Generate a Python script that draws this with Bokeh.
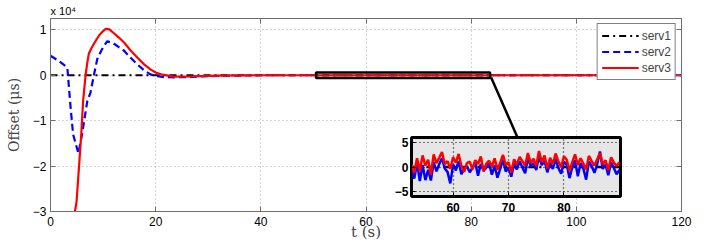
from bokeh.plotting import figure
from bokeh.models import Range1d, LinearAxis, Legend, LegendItem
from bokeh.embed import file_html
from bokeh.resources import INLINE

# ---------------- data (offsets in microseconds) ----------------
t_serv1 = [0, 120]
serv1 = [0, 0]

t_serv2 = [0, 1.5, 3.2, 3.8, 4.3, 5.3, 6.0, 7.0, 7.6, 8.25, 8.9, 9.6, 10.2, 10.8, 12.0, 13.0,
           14.0, 15.2, 16.5, 17.8, 19.0, 20.3, 21.6, 24.0, 27.0, 30.0, 35.0, 40.0, 120.0]
serv2 = [4300, 3200, 1700, -6800, -13000, -17200, -13000, -5700, -3800, 0, 3600, 5300, 6500, 7500,
         7000, 6200, 5400, 3900, 2400, 1100, 200, -200, -400, -450, -350, -200, -80, 0, 0]

t_serv3 = [4.5, 4.95, 5.4, 5.85, 6.2, 6.67, 7.0, 7.3, 7.8, 8.6, 9.2, 9.8, 10.5, 11.2, 12.0, 13.0,
           14.0, 15.2, 16.5, 17.8, 19.0, 20.0, 21.0, 23.5, 27.0, 32.0, 40.0, 120.0]
serv3 = [-31000, -27900, -20500, -13000, -5700, 0, 2800, 4800, 6000, 7600, 8700, 9500, 10200,
         10100, 9300, 8300, 7200, 5500, 3900, 2400, 1300, 600, 200, -300, -250, -100, 0, 0]

# zoomed window (52.5 s .. 90 s, every 0.5 s)
inset_t0 = 52.5
inset_dt = 0.5
inset_serv2 = [-0.5, -2.4, 0.8, -2.9, 0.4, -2.7, -0.6, -2.8, 1.0, -0.9,
               0.6, 1.8, -0.3, -1.0, -3.4, 0.5, -0.7, 1.2, -1.5, -0.4,
               0.2, -1.1, -0.2, 0.9, -1.8, 0.6, -0.8, -0.1, 0.8, -1.6,
               0.3, -2.2, -0.4, 1.5, -0.9, -0.2, -2.0, 0.7, -0.5, 1.2,
               -0.1, -1.3, 1.9, 0.2, 0.8, -0.6, 2.2, 0.4, 1.3, -1.1,
               0.9, -0.4, 1.7, -0.2, -1.4, 1.1, 0.5, -2.3, -0.1, 1.4,
               -1.9, 0.8, -0.3, -2.6, 1.1, 0.2, -1.2, 0.6, 3.2, -0.4,
               0.5, -1.7, 0.9, -0.2, -1.5, -0.6]
inset_serv3 = [0.5, -1.2, 1.8, -0.8, 2.4, 0.3, 1.5, -1.6, 2.6, 0.8,
               1.9, 3.1, 0.6, 1.2, -0.4, 2.0, 0.9, 2.7, 0.2, -1.0,
               0.8, 1.1, -0.5, 1.4, 0.6, 2.2, -0.9, 0.7, 1.3, 0.1,
               1.8, -0.6, 0.9, 2.5, 0.4, 1.0, -1.2, 1.6, 0.5, 2.1,
               1.2, 0.3, 2.9, 0.8, 1.7, 0.2, 3.3, 1.0, 2.4, -0.3,
               1.9, 0.6, 2.8, 1.1, 0.0, 2.2, 1.5, -0.8, 1.0, 2.6,
               0.4, 1.8, 0.7, -0.5, 2.3, 1.2, 0.3, 1.6, 2.9, 0.5,
               1.4, -0.6, 2.0, 0.9, 0.2, 1.0]
inset_t = [inset_t0 + inset_dt * i for i in range(len(inset_serv2))]

series_names = ["serv1", "serv2", "serv3"]
x_ticks = [0, 20, 40, 60, 80, 100, 120]
y_ticks = [-3, -2, -1, 0, 1]
y_tick_labels = ["\u22123", "\u22122", "\u22121", "0", "1"]
inset_x_ticks = [60, 70, 80]
inset_y_ticks = [-5, 0, 5]
inset_y_labels = ["\u22125", "0", "5"]
SCALE = 1e4  # main y axis is in units of 10^4 us

zoom_box_x = (50.5, 83.6)
zoom_box_y = (-0.06, 0.06)

# ---------------- styles ----------------
FRAME = "#6e6e6e"
GRID = "#a8a8a8"
SANS = "Liberation Sans"
SERIF = "DejaVu Serif"

# ---------------- main figure ----------------
p = figure(width=706, height=244, x_range=Range1d(0, 120), y_range=Range1d(-3, 1.25),
           output_backend="svg", toolbar_location=None,
           min_border_left=50, min_border_right=25, min_border_top=18, min_border_bottom=33)
p.outline_line_color = FRAME
p.outline_line_width = 1
p.background_fill_color = "white"

p.title.text = "x 10\u2074"
p.title.align = "left"
p.title.text_font = SANS
p.title.text_font_size = "11px"
p.title.text_font_style = "normal"
p.title.text_color = "black"
p.title.standoff = 4
p.title.offset = 0

def style_axis(ax, ticks, labels=None, font_size="12px", bold=False, color=FRAME, tick_in=5):
    ax.ticker = ticks
    ax.major_tick_in = tick_in
    ax.major_tick_out = 0
    ax.minor_tick_line_color = None
    ax.axis_line_color = color
    ax.major_tick_line_color = color
    ax.major_label_text_font = SANS
    ax.major_label_text_font_size = font_size
    ax.major_label_text_color = "black"
    if bold:
        ax.major_label_text_font_style = "bold"
    if labels is not None:
        ax.major_label_overrides = {t: l for t, l in zip(ticks, labels)}

style_axis(p.xaxis[0], x_ticks)
p.xaxis.major_label_standoff = 5
p.xaxis.axis_label = "t (s)"
p.xaxis.axis_label_text_font = SERIF
p.xaxis.axis_label_text_font_size = "15px"
p.xaxis.axis_label_text_font_style = "normal"
p.xaxis.axis_label_standoff = -6
style_axis(p.yaxis[0], y_ticks, y_tick_labels)
p.yaxis.major_label_standoff = 4
p.yaxis.axis_label = "Offset (\u03bcs)"
p.yaxis.axis_label_text_font = SERIF
p.yaxis.axis_label_text_font_size = "14px"
p.yaxis.axis_label_text_font_style = "normal"
p.yaxis.axis_label_standoff = 8

top_ax = LinearAxis()
style_axis(top_ax, x_ticks, [""] * len(x_ticks))
top_ax.major_label_standoff = 0
p.add_layout(top_ax, "above")
right_ax = LinearAxis()
style_axis(right_ax, y_ticks, [""] * len(y_ticks))
right_ax.major_label_standoff = 0
p.add_layout(right_ax, "right")

p.xgrid.ticker = x_ticks
p.ygrid.ticker = y_ticks
for g in (p.xgrid[0], p.ygrid[0]):
    g.grid_line_color = GRID
    g.grid_line_dash = "1 3"
    g.grid_line_width = 1

r1 = p.line(t_serv1, [v / SCALE for v in serv1], line_color="black", line_width=2,
            line_dash="7 4 2 4")
r2 = p.line(t_serv2, [v / SCALE for v in serv2], line_color="#0000ff", line_width=2.2,
            line_dash="7 4")
r3 = p.line(t_serv3, [v / SCALE for v in serv3], line_color="#ff0000", line_width=2.2)

# zoom box and connector
p.quad(left=zoom_box_x[0], right=zoom_box_x[1], bottom=zoom_box_y[0], top=zoom_box_y[1],
       fill_alpha=0, line_color="black", line_width=2.5)
p.segment(x0=zoom_box_x[1] + 0.2, y0=-0.05, x1=89.0, y1=-1.42, line_color="black", line_width=2.5)

legend = Legend(items=[LegendItem(label=n, renderers=[r]) for n, r in zip(series_names, [r1, r2, r3])],
                location="top_right", margin=5, padding=4, spacing=1,
                glyph_width=37, glyph_height=15, label_height=15, label_standoff=3,
                label_text_font=SANS, label_text_font_size="12px",
                border_line_color="black", border_line_width=1,
                background_fill_color="white", background_fill_alpha=1)
p.add_layout(legend)

# ---------------- inset ----------------
ip = figure(frame_width=209, frame_height=59, x_range=Range1d(52.5, 90.2), y_range=Range1d(-6.1, 6.1),
            output_backend="svg", toolbar_location=None,
            min_border_left=30, min_border_right=4, min_border_top=3, min_border_bottom=22)
ip.background_fill_color = "#e6e6e6"
ip.border_fill_alpha = 0
ip.outline_line_color = "black"
ip.outline_line_width = 3
style_axis(ip.xaxis[0], inset_x_ticks, bold=True, color="black", tick_in=4)
ip.xaxis.major_label_standoff = 6
style_axis(ip.yaxis[0], inset_y_ticks, inset_y_labels, bold=True, color="black", tick_in=4)
ip.yaxis.major_label_standoff = 3
ip.xgrid.ticker = inset_x_ticks
ip.ygrid.ticker = inset_y_ticks
for g in (ip.xgrid[0], ip.ygrid[0]):
    g.grid_line_color = "black"
    g.grid_line_dash = "1 3"
    g.grid_line_width = 1.2

ip.line(t_serv1, serv1, line_color="black", line_width=2.5, line_dash="7 4 2 4")
ip.line(inset_t, inset_serv2, line_color="#0000ff", line_width=2.5)
ip.line(inset_t, inset_serv3, line_color="#ff0000", line_width=2.5)
ip.styles = {"position": "absolute", "left": "381px", "top": "134px"}

open("out.html", "w").write(file_html([p, ip], INLINE))
